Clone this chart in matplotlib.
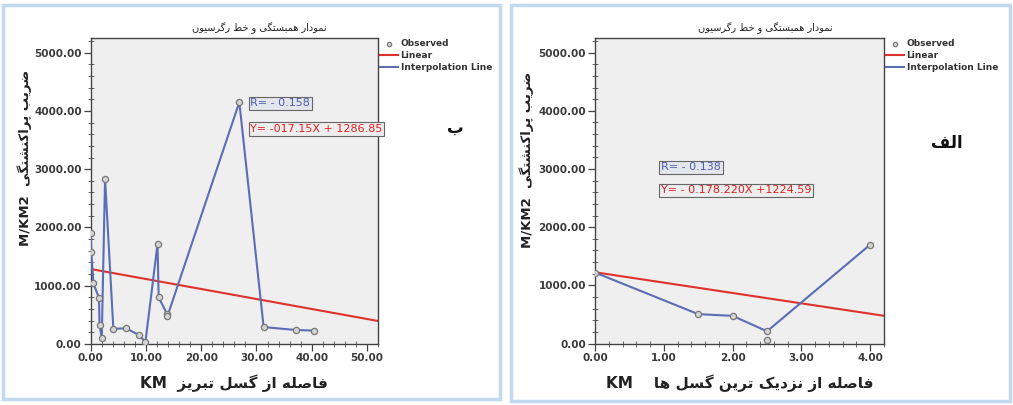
import numpy as np
import matplotlib.pyplot as plt
from matplotlib.patches import Rectangle
from matplotlib.ticker import MultipleLocator, FormatStrFormatter

# simple persian shaping (matplotlib has no bidi / joining support)
FORMS = {
    'ا': ('\uFE8D', '\uFE8E', None, None),
    'ب': ('\uFE8F', '\uFE90', '\uFE91', '\uFE92'),
    'پ': ('\uFB56', '\uFB57', '\uFB58', '\uFB59'),
    'ت': ('\uFE95', '\uFE96', '\uFE97', '\uFE98'),
    'خ': ('\uFEA5', '\uFEA6', '\uFEA7', '\uFEA8'),
    'د': ('\uFEA9', '\uFEAA', None, None),
    'ر': ('\uFEAD', '\uFEAE', None, None),
    'ز': ('\uFEAF', '\uFEB0', None, None),
    'س': ('\uFEB1', '\uFEB2', '\uFEB3', '\uFEB4'),
    'ش': ('\uFEB5', '\uFEB6', '\uFEB7', '\uFEB8'),
    'ص': ('\uFEB9', '\uFEBA', '\uFEBB', '\uFEBC'),
    'ض': ('\uFEBD', '\uFEBE', '\uFEBF', '\uFEC0'),
    'ط': ('\uFEC1', '\uFEC2', '\uFEC3', '\uFEC4'),
    'ف': ('\uFED1', '\uFED2', '\uFED3', '\uFED4'),
    'ک': ('\uFB8E', '\uFB8F', '\uFB90', '\uFB91'),
    'گ': ('\uFB92', '\uFB93', '\uFB94', '\uFB95'),
    'ل': ('\uFEDD', '\uFEDE', '\uFEDF', '\uFEE0'),
    'م': ('\uFEE1', '\uFEE2', '\uFEE3', '\uFEE4'),
    'ن': ('\uFEE5', '\uFEE6', '\uFEE7', '\uFEE8'),
    'ه': ('\uFEE9', '\uFEEA', '\uFEEB', '\uFEEC'),
    'و': ('\uFEED', '\uFEEE', None, None),
    'ی': ('\uFBFC', '\uFBFD', '\uFBFE', '\uFBFF'),
}


def fa(s):
    out = []
    for i, c in enumerate(s):
        if c not in FORMS:
            out.append(c)
            continue
        iso, fin, ini, med = FORMS[c]
        prev = s[i - 1] if i > 0 else ''
        nxt = s[i + 1] if i < len(s) - 1 else ''
        pj = prev in FORMS and FORMS[prev][2] is not None
        nj = nxt in FORMS and ini is not None
        if pj and nj:
            out.append(med)
        elif pj:
            out.append(fin)
        elif nj:
            out.append(ini)
        else:
            out.append(iso)
    return ''.join(out)[::-1]


title = 'نمودار همبستگی و خط رگرسیون'
ylab = 'ضریب پراکنشتگی'
xlab_left = 'فاصله از گسل تبریز'
xlab_right = 'فاصله از نزدیک ترین گسل ها'
tag_left = 'ب'
tag_right = 'الف'

# left panel (distance from Tabriz fault)
x_left = [0.0, 0.1, 0.5, 1.5, 1.6, 2.0, 2.6, 4.1, 6.4, 8.8, 9.9, 12.1, 12.3, 13.8, 13.9, 26.9, 31.3, 37.2, 40.5]
y_left = [1900, 1580, 1040, 790, 330, 100, 2830, 260, 270, 150, 30, 1720, 800, 520, 480, 4150, 290, 240, 230]
slope_left, icpt_left = -17.15, 1286.85
r_left = 'R= - 0.158'
eq_left = 'Y= -017.15X + 1286.85'

# right panel (distance from nearest faults)
x_right = [0.0, 1.5, 2.0, 2.5, 4.0]
y_right = [1220, 505, 475, 210, 1700]
x_right_extra = [2.5]
y_right_extra = [55]
slope_right, icpt_right = -178.220, 1224.59
r_right = 'R= - 0.138'
eq_right = 'Y= - 0.178.220X +1224.59'

W, H = 1013, 405
fig = plt.figure(figsize=(W / 100, H / 100), dpi=100)
fig.patch.set_facecolor('white')

frame_col = '#c3daee'
for (x0, y0, x1, y1) in [(3, 5, 500, 399), (511, 5, 1010, 401)]:
    fig.patches.append(Rectangle((x0 / W, 1 - y1 / H), (x1 - x0) / W, (y1 - y0) / H,
                                 transform=fig.transFigure, fill=False,
                                 edgecolor=frame_col, linewidth=2.5))

blue = '#5a6db5'
red = '#e0322c'
tick_col = '#3a3a3a'


def panel(rect, xs, ys, ex, ey, slope, icpt, xmax, xmajor, xminor, xfmt,
          rtxt, rpos, etxt, epos, xlabel, ylabpos, titlepos, tag, tagpos):
    ax = fig.add_axes([rect[0] / W, 1 - rect[3] / H, (rect[2] - rect[0]) / W, (rect[3] - rect[1]) / H])
    ax.set_facecolor('#efefef')
    for sp in ax.spines.values():
        sp.set_color('#444444')
        sp.set_linewidth(1.0)
    xx = np.array([0, xmax])
    ax.plot(xx, icpt + slope * xx, color=red, lw=1.5, label='Linear', zorder=2)
    ax.plot(xs, ys, color=blue, lw=1.5, label='Interpolation Line', zorder=3)
    ax.scatter(list(xs) + list(ex), list(ys) + list(ey), s=20, facecolor='#d4d4d4',
               edgecolor='#777777', linewidth=0.9, zorder=4, label='Observed')
    ax.set_xlim(0, xmax)
    ax.set_ylim(0, 5260)
    ax.xaxis.set_major_locator(MultipleLocator(xmajor))
    ax.xaxis.set_minor_locator(MultipleLocator(xminor))
    ax.yaxis.set_major_locator(MultipleLocator(1000))
    ax.yaxis.set_minor_locator(MultipleLocator(200))
    ax.xaxis.set_major_formatter(FormatStrFormatter(xfmt))
    ax.yaxis.set_major_formatter(FormatStrFormatter('%.2f'))
    ax.tick_params(which='major', direction='out', length=5, width=0.9, color='#444444',
                   labelsize=7.5, labelcolor=tick_col, pad=1.5)
    ax.tick_params(which='minor', direction='inout', length=4, width=0.7, color='#666666')
    for lab in ax.get_xticklabels() + ax.get_yticklabels():
        lab.set_fontweight('bold')
    ax.text(rpos[0], rpos[1], rtxt, color='#4a5db0', fontsize=8, va='center', ha='left', zorder=6,
            bbox=dict(boxstyle='square,pad=0.15', facecolor='#e4e6ee', edgecolor='#666666', lw=0.8))
    ax.text(epos[0], epos[1], etxt, color='#e02020', fontsize=8, va='center', ha='left', zorder=6,
            bbox=dict(boxstyle='square,pad=0.15', facecolor='#eeeeee', edgecolor='#666666', lw=0.8))
    leg = ax.legend(handles=[ax.collections[0], ax.lines[0], ax.lines[1]],
                    loc='upper left', bbox_to_anchor=(1.0, 1.0), frameon=False,
                    prop={'size': 6.5, 'weight': 'bold'}, handlelength=2.0, handletextpad=0.3,
                    labelspacing=0.3, borderaxespad=0.0, borderpad=0.2, markerscale=0.7)
    for t in leg.get_texts():
        t.set_color('#333333')
    fig.text(titlepos[0] / W, 1 - titlepos[1] / H, fa(title), fontsize=7, ha='center', va='center',
             family='DejaVu Sans', color='#222222')
    fig.text((rect[0] + rect[2]) / 2 / W, 1 - 383 / H, xlabel, fontsize=11, fontweight='bold',
             ha='center', va='center', family='DejaVu Sans', color='#222222')
    fig.text(ylabpos[0] / W, 1 - ylabpos[1] / H, 'M/KM2  ' + fa(ylab), fontsize=9.5, fontweight='bold',
             rotation=90, ha='center', va='center', family='DejaVu Sans', color='#222222')
    fig.text(tagpos[0] / W, 1 - tagpos[1] / H, fa(tag), fontsize=12, fontweight='bold',
             ha='center', va='center', family='DejaVu Sans', color='#111111')
    return ax


panel((90.7, 37.5, 378, 344), x_left, y_left, [], [], slope_left, icpt_left, 52, 10, 2, '%.2f',
      r_left, (28.9, 4130), eq_left, (28.9, 3690), 'KM  ' + fa(xlab_left),
      (25, 158), (259, 28), tag_left, (455, 128))
panel((595, 37.5, 884, 343.5), x_right, y_right, x_right_extra, y_right_extra, slope_right, icpt_right,
      4.2, 1, 0.2, '%.2f', r_right, (0.96, 3030), eq_right, (0.96, 2630),
      'KM    ' + fa(xlab_right), (527, 160), (765, 28), tag_right, (947, 143))

fig.savefig('out.png', dpi=100)
